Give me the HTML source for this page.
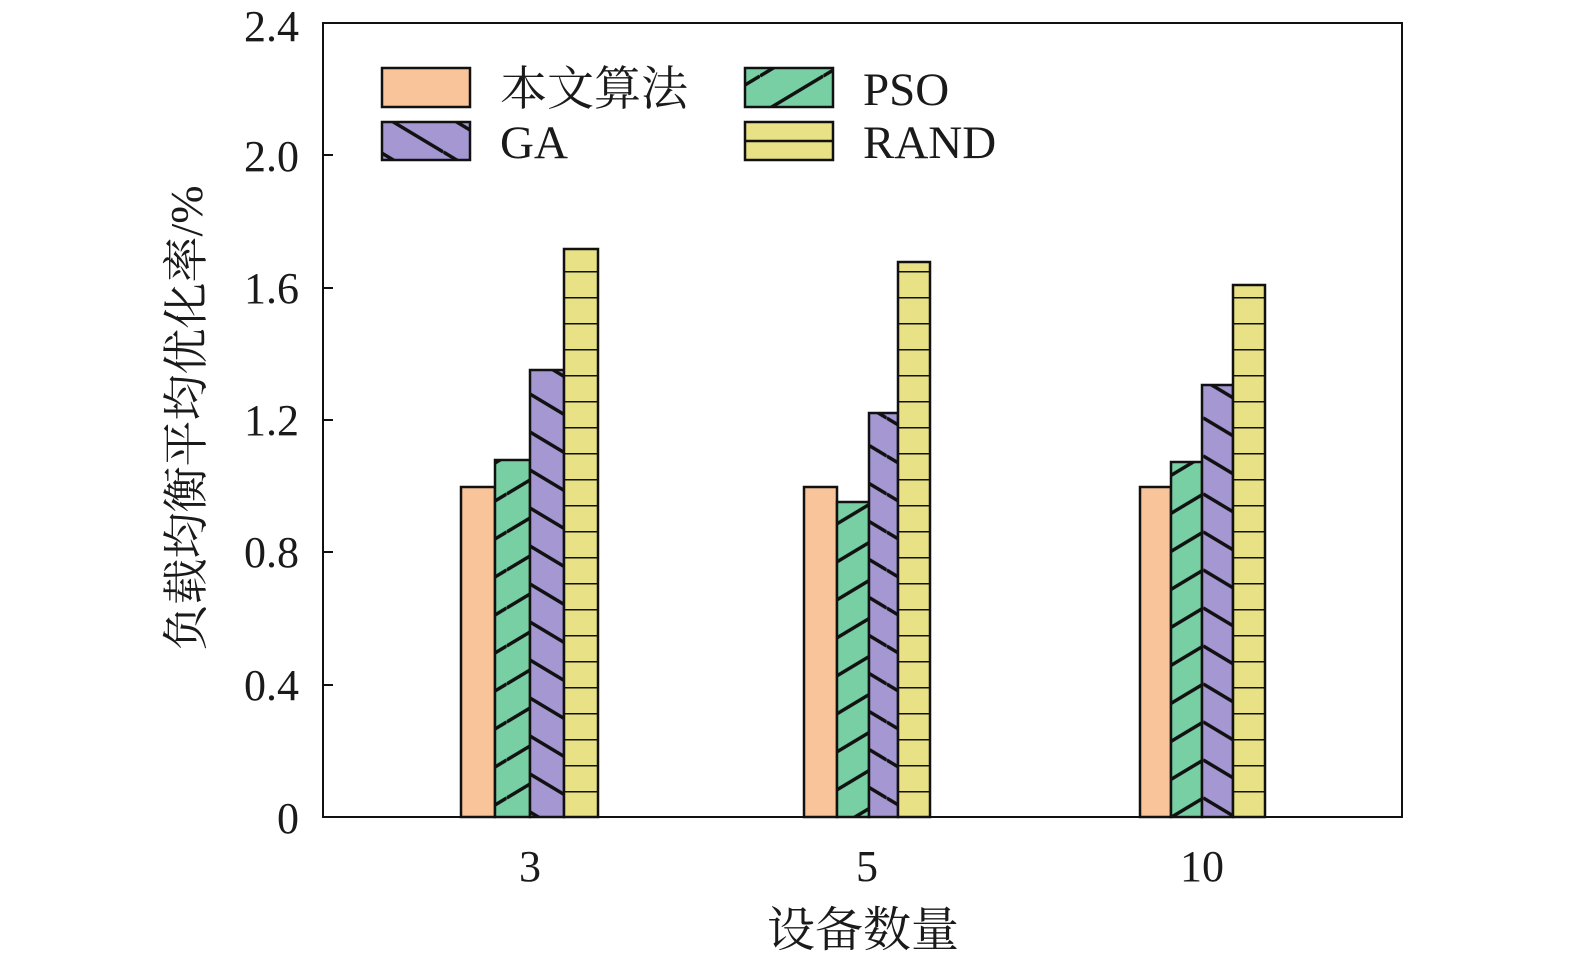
<!DOCTYPE html><html><head><meta charset="utf-8"><style>html,body{margin:0;padding:0;overflow:hidden;background:#fff}svg{display:block}text{font-family:"Liberation Serif","Noto Serif CJK SC",serif;fill:#1a1a1a}</style></head><body>
<svg width="1575" height="964" viewBox="0 0 1575 964" xmlns="http://www.w3.org/2000/svg">
<defs>
<pattern id="g" patternUnits="userSpaceOnUse" width="63.333" height="38">
<rect width="63.333" height="38" fill="#78CFA4"/>
<line x1="0" y1="38" x2="63.333" y2="0" stroke="#111" stroke-width="3.5"/>
<line x1="0" y1="0" x2="63.333" y2="-38" stroke="#111" stroke-width="3.5"/>
<line x1="0" y1="76" x2="63.333" y2="38" stroke="#111" stroke-width="3.5"/>
</pattern>
<pattern id="p" patternUnits="userSpaceOnUse" width="63.333" height="38">
<rect width="63.333" height="38" fill="#A497D2"/>
<line x1="0" y1="0" x2="63.333" y2="38" stroke="#111" stroke-width="3.5"/>
<line x1="0" y1="-38" x2="63.333" y2="0" stroke="#111" stroke-width="3.5"/>
<line x1="0" y1="38" x2="63.333" y2="76" stroke="#111" stroke-width="3.5"/>
</pattern>
<pattern id="y" patternUnits="userSpaceOnUse" width="60" height="26" y="817">
<rect width="60" height="26" fill="#E8E185"/>
<line x1="0" y1="0" x2="60" y2="0" stroke="#111" stroke-width="3"/>
</pattern>
</defs>
<rect x="323" y="23" width="1079" height="794" fill="none" stroke="#111" stroke-width="2"/>
<g stroke="#111" stroke-width="2">
<line x1="323" y1="155" x2="333" y2="155"/><line x1="323" y1="288" x2="333" y2="288"/><line x1="323" y1="420" x2="333" y2="420"/><line x1="323" y1="552" x2="333" y2="552"/><line x1="323" y1="685" x2="333" y2="685"/>
</g>
<g font-size="44" text-anchor="end">
<text x="299" y="41">2.4</text><text x="299" y="171">2.0</text><text x="299" y="303">1.6</text><text x="299" y="435">1.2</text><text x="299" y="567">0.8</text><text x="299" y="700">0.4</text><text x="299" y="833">0</text>
</g>
<g font-size="44" text-anchor="middle">
<text x="530" y="881">3</text><text x="867" y="881">5</text><text x="1202" y="881">10</text>
<text x="863" y="946" font-size="48">设备数量</text>
</g>
<text transform="translate(202,418) rotate(-90)" font-size="46" text-anchor="middle">负载均衡平均优化率/%</text>
<g stroke="#111" stroke-width="2.5">
<rect x="461" y="487" width="34" height="330" fill="#F9C49A"/>
<rect x="495" y="460" width="35" height="357" fill="url(#g)"/>
<rect x="530" y="370" width="34" height="447" fill="url(#p)"/>
<rect x="564" y="249" width="34" height="568" fill="url(#y)"/>
<rect x="804" y="487" width="33" height="330" fill="#F9C49A"/>
<rect x="837" y="502" width="32" height="315" fill="url(#g)"/>
<rect x="869" y="413" width="29" height="404" fill="url(#p)"/>
<rect x="898" y="262" width="32" height="555" fill="url(#y)"/>
<rect x="1140" y="487" width="31" height="330" fill="#F9C49A"/>
<rect x="1171" y="462" width="31" height="355" fill="url(#g)"/>
<rect x="1202" y="385" width="31" height="432" fill="url(#p)"/>
<rect x="1233" y="285" width="32" height="532" fill="url(#y)"/>
<rect x="382" y="68" width="88" height="39" fill="#F9C49A"/>
<rect x="745" y="68" width="88" height="39" fill="url(#g)"/>
<rect x="382" y="122" width="88" height="38" fill="url(#p)"/>
<rect x="745" y="122" width="88" height="38" fill="#E8E185"/>
<line x1="745" y1="141" x2="833" y2="141"/>
</g>
<g font-size="47">
<text x="500" y="105">本文算法</text><text x="863" y="105">PSO</text>
<text x="500" y="158">GA</text><text x="863" y="158">RAND</text>
</g>
</svg></body></html>
